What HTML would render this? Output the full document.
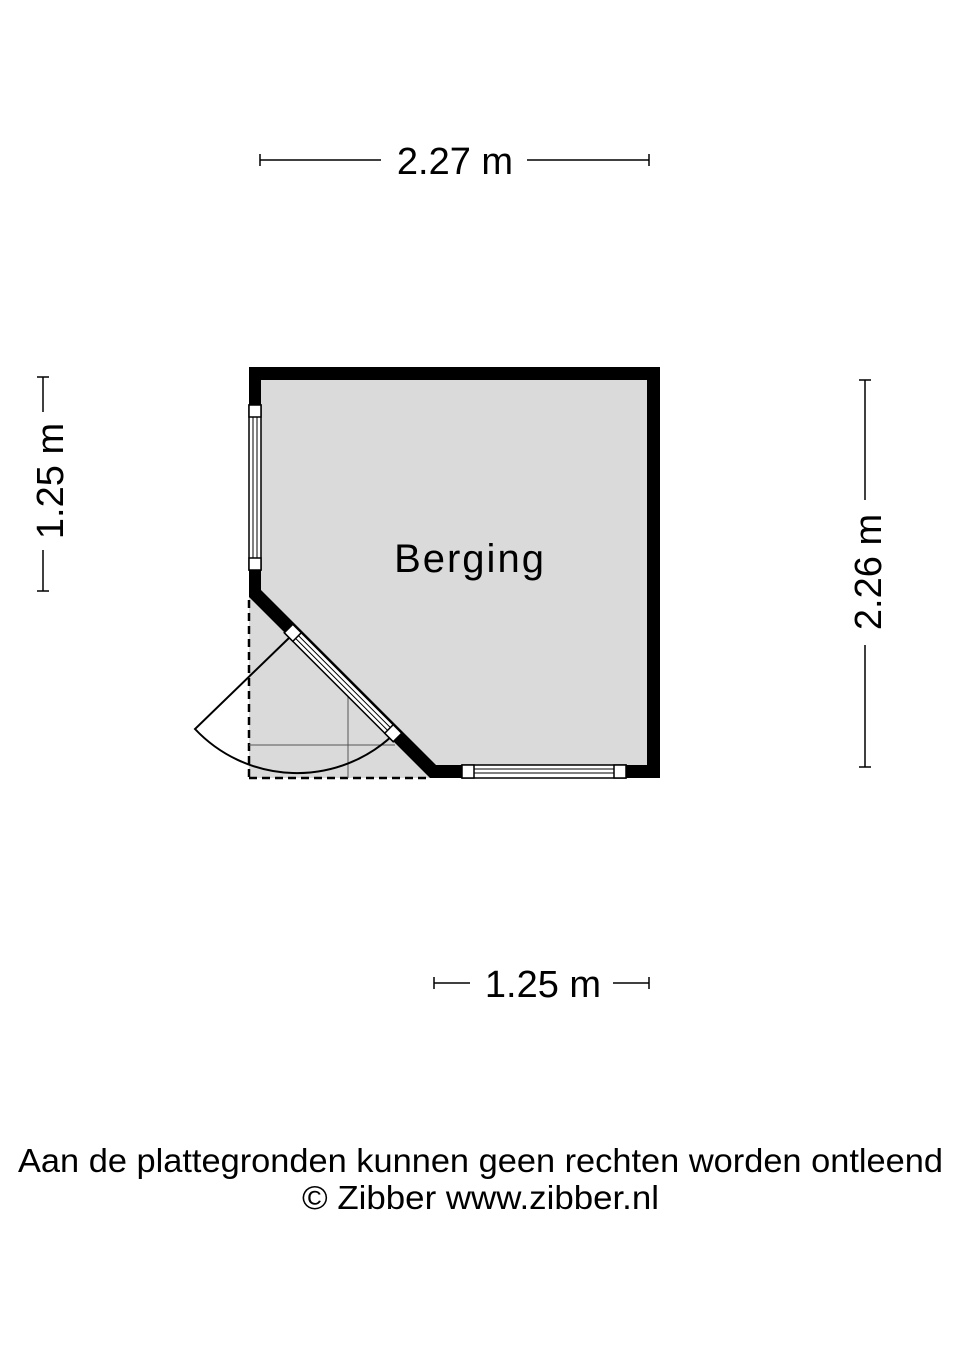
<!DOCTYPE html>
<html><head><style>
body{margin:0;background:#fff;}
svg text{font-family:"Liberation Sans",sans-serif;fill:#000;}
</style></head><body>
<svg width="960" height="1358" viewBox="0 0 960 1358" xmlns="http://www.w3.org/2000/svg">
<g stroke="#000" stroke-width="1.5">
<line x1="260" y1="160" x2="381" y2="160"/><line x1="527" y1="160" x2="649" y2="160"/>
<line x1="260" y1="154" x2="260" y2="166"/><line x1="649" y1="154" x2="649" y2="166"/>
<line x1="43" y1="377" x2="43" y2="412"/><line x1="43" y1="550" x2="43" y2="591"/>
<line x1="37" y1="377" x2="49" y2="377"/><line x1="37" y1="591" x2="49" y2="591"/>
<line x1="865" y1="380" x2="865" y2="500"/><line x1="865" y1="645" x2="865" y2="767"/>
<line x1="859" y1="380" x2="871" y2="380"/><line x1="859" y1="767" x2="871" y2="767"/>
<line x1="434" y1="983" x2="470" y2="983"/><line x1="613" y1="983" x2="649" y2="983"/>
<line x1="434" y1="977" x2="434" y2="989"/><line x1="649" y1="977" x2="649" y2="989"/>
</g>
<text x="455" y="174" font-size="38" text-anchor="middle">2.27 m</text>
<text transform="translate(63,481) rotate(-90)" font-size="38" text-anchor="middle">1.25 m</text>
<text transform="translate(881,572) rotate(-90)" font-size="38" text-anchor="middle">2.26 m</text>
<text x="543" y="997" font-size="38" text-anchor="middle">1.25 m</text>
<polygon points="249,597 249,778 430,778" fill="#dadada"/>
<polygon points="249,367 660,367 660,778 430,778 249,597" fill="#000"/>
<polygon points="261,380 647,380 647,765 436,765 261,590" fill="#dadada"/>
<g stroke="#000" stroke-width="2.5" stroke-dasharray="8,5" fill="none">
<line x1="249" y1="600" x2="249" y2="778"/><line x1="249" y1="778" x2="430" y2="778"/>
</g>
<g stroke="#555" stroke-width="1"><line x1="249" y1="745" x2="395" y2="745"/><line x1="348" y1="690" x2="348" y2="778"/></g>
<path d="M290,637 L195,729 A140,140 0 0 0 393,735" fill="none" stroke="#000" stroke-width="2"/>
<rect x="249" y="405" width="12" height="165" fill="#fff" stroke="#000" stroke-width="1.5"/>
<line x1="253" y1="405" x2="253" y2="570" stroke="#000"/><line x1="257" y1="405" x2="257" y2="570" stroke="#000"/>
<rect x="249" y="405" width="12" height="12" fill="#fff" stroke="#000" stroke-width="1.5"/>
<rect x="249" y="558" width="12" height="12" fill="#fff" stroke="#000" stroke-width="1.5"/>
<rect x="462" y="765" width="164" height="13" fill="#fff" stroke="#000" stroke-width="1.5"/>
<line x1="462" y1="769" x2="626" y2="769" stroke="#000"/><line x1="462" y1="773" x2="626" y2="773" stroke="#000"/>
<rect x="462" y="765" width="12" height="13" fill="#fff" stroke="#000" stroke-width="1.5"/>
<rect x="614" y="765" width="12" height="13" fill="#fff" stroke="#000" stroke-width="1.5"/>
<g transform="translate(343,683) rotate(45)">
<rect x="-77" y="-6" width="154" height="12" fill="#fff" stroke="#000" stroke-width="1.5"/>
<line x1="-77" y1="-2" x2="77" y2="-2" stroke="#000"/><line x1="-77" y1="2" x2="77" y2="2" stroke="#000"/>
<rect x="-77" y="-6" width="12" height="12" fill="#fff" stroke="#000" stroke-width="1.5"/>
<rect x="65" y="-6" width="12" height="12" fill="#fff" stroke="#000" stroke-width="1.5"/>
</g>
<text x="470" y="572" font-size="40" text-anchor="middle" letter-spacing="2">Berging</text>
<text x="18" y="1172" font-size="33" textLength="925" lengthAdjust="spacingAndGlyphs">Aan de plattegronden kunnen geen rechten worden ontleend</text>
<text x="302" y="1209" font-size="33" textLength="357" lengthAdjust="spacingAndGlyphs">© Zibber www.zibber.nl</text>
</svg>
</body></html>
